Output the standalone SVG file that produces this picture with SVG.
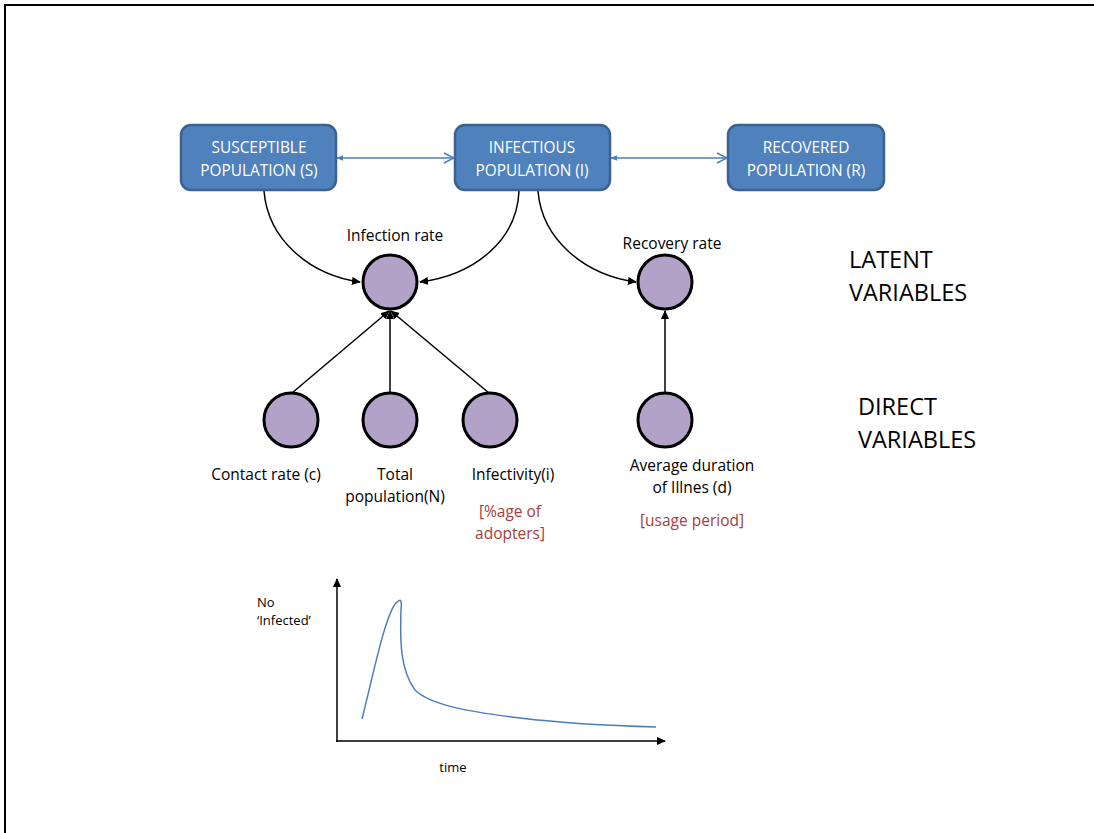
<svg xmlns="http://www.w3.org/2000/svg" width="1094" height="833" viewBox="0 0 1094 833">
<defs>
<style>
.box{fill:#4f81bd;stroke:#3b6290;stroke-width:2.5}
.bt{fill:#ffffff;font-family:"Open Sans","Liberation Sans",sans-serif;font-size:15.4px;text-anchor:middle}
.node{fill:#b3a2c7;stroke:#000;stroke-width:3}
.lbl{fill:#000;font-family:"Open Sans","Liberation Sans",sans-serif;font-size:15.5px;text-anchor:middle}
.red{fill:#a5403d;font-family:"Open Sans","Liberation Sans",sans-serif;font-size:15.5px;text-anchor:middle}
.big{fill:#000;font-family:"Open Sans","Liberation Sans",sans-serif;font-size:23.5px}
.sm{fill:#000;font-family:"Open Sans","Liberation Sans",sans-serif;font-size:13px}
.bl{stroke:#4a7ebb;stroke-width:1.5;fill:none}
.ar{stroke:#000;stroke-width:1.5;fill:none}
</style>
<marker id="bfill" viewBox="0 0 10 10" refX="9" refY="5" markerWidth="7" markerHeight="7" orient="auto-start-reverse" markerUnits="userSpaceOnUse"><path d="M0,1 L10,5 L0,9 Z" fill="#4a7ebb"/></marker>
<marker id="bopen" viewBox="0 0 12 12" refX="11" refY="6" markerWidth="12" markerHeight="12" orient="auto" markerUnits="userSpaceOnUse"><path d="M1,1 L11,6 L1,11" fill="none" stroke="#4a7ebb" stroke-width="1.5"/></marker>
<marker id="ka" viewBox="0 0 10 10" refX="9" refY="5" markerWidth="9" markerHeight="9" orient="auto" markerUnits="userSpaceOnUse"><path d="M0,0.5 L10,5 L0,9.5 Z" fill="#000"/></marker>
</defs>
<rect width="1094" height="833" fill="#fff"/>
<path d="M5,833 L5,5 L1094,5" fill="none" stroke="#000" stroke-width="2"/>

<g id="connectors">
<line class="bl" x1="337" y1="158" x2="454" y2="158" marker-start="url(#bfill)" marker-end="url(#bopen)"/>
<line class="bl" x1="611" y1="158" x2="727" y2="158" marker-start="url(#bfill)" marker-end="url(#bopen)"/>
<path class="ar" d="M264,191 C268,240 310,275 360,282" marker-end="url(#ka)"/>
<path class="ar" d="M519,191 C517,240 475,275 420,282" marker-end="url(#ka)"/>
<path class="ar" d="M538,191 C542,240 585,275 636,282" marker-end="url(#ka)"/>
<line class="ar" x1="292" y1="393" x2="389" y2="311" marker-end="url(#ka)"/>
<line class="ar" x1="390" y1="393" x2="390" y2="311" marker-end="url(#ka)"/>
<line class="ar" x1="489" y1="393" x2="391" y2="311" marker-end="url(#ka)"/>
<line class="ar" x1="665" y1="393" x2="665" y2="311" marker-end="url(#ka)"/>
</g>

<g id="node-S">
<rect class="box" x="181" y="125" width="155" height="65" rx="10"/>
<text class="bt" x="259" y="153">SUSCEPTIBLE</text>
<text class="bt" x="259" y="176">POPULATION (S)</text>
</g>
<g id="node-I">
<rect class="box" x="455" y="125" width="155" height="65" rx="10"/>
<text class="bt" x="532" y="153">INFECTIOUS</text>
<text class="bt" x="532" y="176">POPULATION (I)</text>
</g>
<g id="node-R">
<rect class="box" x="728" y="125" width="156" height="65" rx="10"/>
<text class="bt" x="806" y="153">RECOVERED</text>
<text class="bt" x="806" y="176">POPULATION (R)</text>
</g>

<g id="node-infection-rate">
<circle class="node" cx="390" cy="282" r="27"/>
<text class="lbl" x="395" y="241">Infection rate</text>
</g>
<g id="node-recovery-rate">
<circle class="node" cx="665" cy="282" r="27"/>
<text class="lbl" x="672" y="249">Recovery rate</text>
</g>
<g id="node-contact-rate">
<circle class="node" cx="291" cy="420" r="27"/>
<text class="lbl" x="266" y="480">Contact rate (c)</text>
</g>
<g id="node-total-population">
<circle class="node" cx="390" cy="420" r="27"/>
<text class="lbl" x="395" y="480">Total</text>
<text class="lbl" x="395" y="502">population(N)</text>
</g>
<g id="node-infectivity">
<circle class="node" cx="490" cy="420" r="27"/>
<text class="lbl" x="513" y="480">Infectivity(i)</text>
<text class="red" x="510" y="517">[%age of</text>
<text class="red" x="510" y="539">adopters]</text>
</g>
<g id="node-duration">
<circle class="node" cx="665" cy="420" r="27"/>
<text class="lbl" x="692" y="471">Average duration</text>
<text class="lbl" x="692" y="493">of Illnes (d)</text>
<text class="red" x="692" y="526">[usage period]</text>
</g>

<g id="legend">
<text class="big" x="849" y="268">LATENT</text>
<text class="big" x="849" y="301">VARIABLES</text>
<text class="big" x="858" y="415">DIRECT</text>
<text class="big" x="858" y="448">VARIABLES</text>
</g>

<g id="chart">
<line class="ar" x1="337" y1="742" x2="337" y2="579" marker-end="url(#ka)"/>
<line class="ar" x1="336" y1="741" x2="665" y2="741" marker-end="url(#ka)"/>
<path d="M362,719 C372,680 385,615 396,603 C401,598 402,600 401,610 C400,640 400,670 415,690 C430,705 470,712 520,718 C570,724 620,726 656,727" fill="none" stroke="#4a7ebb" stroke-width="1.5"/>
<text class="sm" x="257" y="607">No</text>
<text class="sm" x="257" y="625">‘Infected’</text>
<text class="sm" x="453" y="772" text-anchor="middle">time</text>
</g>
</svg>
